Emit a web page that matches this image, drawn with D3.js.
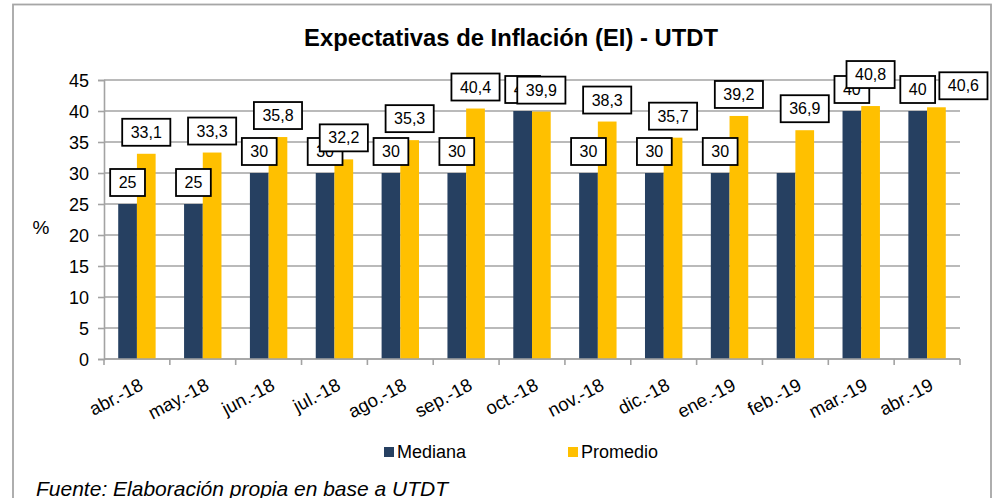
<!DOCTYPE html>
<html>
<head>
<meta charset="utf-8">
<script src="https://cdn.jsdelivr.net/npm/d3@7/dist/d3.min.js"></script>
<style>
  html, body { margin: 0; padding: 0; background: #fff; }
  svg { display: block; font-family: "Liberation Sans", Arial, sans-serif; }
</style>
</head>
<body>
<svg id="chart" width="997" height="498"></svg>
<script>
// ---- data ----
const categories = ["abr.-18","may.-18","jun.-18","jul.-18","ago.-18","sep.-18","oct.-18","nov.-18","dic.-18","ene.-19","feb.-19","mar.-19","abr.-19"];
const seriesNames = ["Mediana","Promedio"];
const mediana  = [25, 25, 30, 30, 30, 30, 40, 30, 30, 30, 30, 40, 40];
const promedio = [33.1, 33.3, 35.8, 32.2, 35.3, 40.4, 39.9, 38.3, 35.7, 39.2, 36.9, 40.8, 40.6];
const yTicks = [0, 5, 10, 15, 20, 25, 30, 35, 40, 45];
const titleText = "Expectativas de Inflación (EI) - UTDT";
const yAxisLabel = "%";
const sourceText = "Fuente: Elaboración propia en base a UTDT";

// ---- styling ----
const colors = { Mediana: "#264061", Promedio: "#FFC000" };
const gridColor = "#a3a3a3";
// label adjustments (as in the source chart): hidden labels and manual nudges
const hiddenLabels = [{ series: "Mediana", index: 10 }];
const labelNudges = [
  { series: "Promedio", index: 11, dx: 0, dy: -10 },
  { series: "Promedio", index: 12, dx: 27, dy: 0 }
];

const svg = d3.select("#chart");
const plot = { left: 104, right: 960, top: 80, bottom: 359 };

// frame
svg.append("rect")
  .attr("x", 13).attr("y", 4.5)
  .attr("width", 978).attr("height", 510)
  .attr("fill", "#fff").attr("stroke", "#a6a6a6").attr("stroke-width", 1.8);

const x = d3.scaleBand().domain(categories).range([plot.left, plot.right]).paddingInner(0).paddingOuter(0);
const x1 = d3.scaleBand().domain(seriesNames).range([0, x.step()]).paddingInner(0).paddingOuter(0.76);
const y = d3.scaleLinear().domain([0, 45]).range([plot.bottom, plot.top]);

// gridlines
svg.append("g").selectAll("line").data(yTicks).join("line")
  .attr("x1", plot.left).attr("x2", plot.right)
  .attr("y1", d => y(d)).attr("y2", d => y(d))
  .attr("stroke", gridColor).attr("stroke-width", 1.6);

// y axis
const yAxis = svg.append("g").attr("transform", `translate(${plot.left},0)`)
  .call(d3.axisLeft(y).tickValues(yTicks).tickSize(6).tickPadding(9).tickFormat(d3.format("d")));
yAxis.select(".domain").attr("stroke", gridColor).attr("stroke-width", 1.6);
yAxis.selectAll(".tick line").attr("stroke", gridColor).attr("stroke-width", 1.6);
yAxis.selectAll(".tick text").attr("font-size", 18).attr("fill", "#000")
  .attr("font-family", "'Liberation Sans', Arial, sans-serif").attr("dy", "0.36em");

// bars
const rows = categories.map((c, i) => ({ cat: c, i, Mediana: mediana[i], Promedio: promedio[i] }));
const groups = svg.append("g").selectAll("g").data(rows).join("g")
  .attr("transform", d => `translate(${x(d.cat)},0)`);
groups.selectAll("rect").data(d => seriesNames.map(s => ({ s, v: d[s], i: d.i }))).join("rect")
  .attr("x", d => x1(d.s)).attr("width", x1.bandwidth())
  .attr("y", d => y(d.v)).attr("height", d => y(0) - y(d.v))
  .attr("fill", d => colors[d.s]);

// x axis line and boundary ticks
svg.append("line").attr("x1", plot.left).attr("x2", plot.right)
  .attr("y1", y(0)).attr("y2", y(0)).attr("stroke", gridColor).attr("stroke-width", 1.6);
const bounds = categories.map(c => x(c)).concat([x.range()[1]]);
svg.append("g").selectAll("line").data(bounds).join("line")
  .attr("x1", d => d).attr("x2", d => d)
  .attr("y1", y(0)).attr("y2", y(0) + 6)
  .attr("stroke", gridColor).attr("stroke-width", 1.6);

// x labels
svg.append("g").selectAll("text").data(categories).join("text")
  .attr("transform", d => `translate(${x(d) + x.bandwidth() / 2 + 7.5},${y(0) + 30}) rotate(-28)`)
  .attr("text-anchor", "end")
  .attr("font-size", 18.5).attr("fill", "#000")
  .text(d => d);

// y axis title
svg.append("text").attr("x", 41).attr("y", 234).attr("text-anchor", "middle")
  .attr("font-size", 19).attr("fill", "#000").text(yAxisLabel);

// title
svg.append("text").attr("x", 511).attr("y", 46).attr("text-anchor", "middle")
  .attr("font-size", 23.8).attr("font-weight", "bold").attr("fill", "#000").text(titleText);

// data labels: Mediana first, then Promedio (drawn on top)
const fmt = v => String(v).replace(".", ",");
const labelLayer = svg.append("g");
seriesNames.forEach(s => {
  rows.forEach(r => {
    if (hiddenLabels.some(h => h.series === s && h.index === r.i)) return;
    const nudge = labelNudges.find(n => n.series === s && n.index === r.i) || { dx: 0, dy: 0 };
    const cx = x(r.cat) + x1(s) + x1.bandwidth() / 2 + nudge.dx;
    const bottom = y(r[s]) - 8 + nudge.dy;
    const g = labelLayer.append("g");
    const rect = g.append("rect").attr("fill", "#fff").attr("stroke", "#000").attr("stroke-width", 1.8);
    const t = g.append("text").attr("x", cx).attr("y", bottom - 8)
      .attr("text-anchor", "middle").attr("font-size", 16).attr("fill", "#000").text(fmt(r[s]));
    const w = t.node().getComputedTextLength() + 17;
    rect.attr("x", cx - w / 2).attr("y", bottom - 27).attr("width", w).attr("height", 27);
  });
});

// legend
const legendItems = [{ s: "Mediana", x: 384 }, { s: "Promedio", x: 568 }];
const lg = svg.append("g").selectAll("g").data(legendItems).join("g");
lg.append("rect").attr("x", d => d.x).attr("y", 447).attr("width", 10).attr("height", 10)
  .attr("fill", d => colors[d.s]);
lg.append("text").attr("x", d => d.x + 13).attr("y", 457.5)
  .attr("font-size", 18).attr("fill", "#000").text(d => d.s);

// source
svg.append("text").attr("x", 36).attr("y", 496)
  .attr("font-size", 21).attr("font-style", "italic").attr("fill", "#000").text(sourceText);
</script>
</body>
</html>
